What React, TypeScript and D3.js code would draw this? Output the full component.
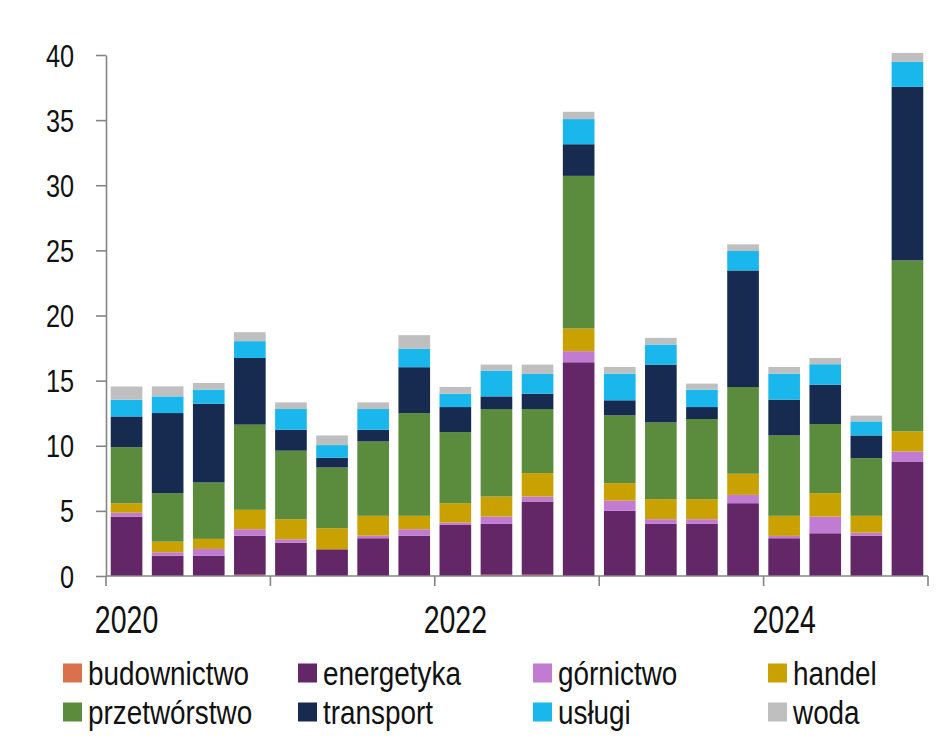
import React, { useEffect, useRef } from "react";
import * as d3 from "d3";

const quarters = [
  "2020Q1", "2020Q2", "2020Q3", "2020Q4",
  "2021Q1", "2021Q2", "2021Q3", "2021Q4",
  "2022Q1", "2022Q2", "2022Q3", "2022Q4",
  "2023Q1", "2023Q2", "2023Q3", "2023Q4",
  "2024Q1", "2024Q2", "2024Q3", "2024Q4",
];

const sectors = ["budownictwo", "energetyka", "górnictwo", "handel", "przetwórstwo", "transport", "usługi", "woda"];
const colors = ["#d9714c", "#632768", "#c27bd2", "#c9a100", "#5b8b3d", "#172a4f", "#19b7eb", "#bfbfbf"];

const budownictwo = [0, 0, 0, 0.1, 0, 0, 0, 0, 0, 0.1, 0.1, 0, 0, 0, 0, 0, 0, 0, 0, 0];
const energetyka = [4.56, 1.56, 1.56, 3.0, 2.56, 2.05, 2.9, 3.1, 3.92, 3.9, 5.62, 16.41, 5.0, 4.0, 4.0, 5.59, 2.9, 3.28, 3.1, 8.79];
const gornictwo = [0.3, 0.26, 0.52, 0.49, 0.26, 0, 0.2, 0.49, 0.18, 0.56, 0.38, 0.85, 0.79, 0.36, 0.36, 0.64, 0.18, 1.28, 0.23, 0.77];
const handel = [0.72, 0.82, 0.77, 1.49, 1.54, 1.62, 1.52, 1.03, 1.49, 1.54, 1.8, 1.74, 1.34, 1.54, 1.54, 1.62, 1.54, 1.8, 1.29, 1.54];
const przetworstwo = [4.31, 3.72, 4.33, 6.54, 5.26, 4.66, 5.71, 7.89, 5.46, 6.72, 4.92, 11.72, 5.2, 5.89, 6.15, 6.66, 6.17, 5.31, 4.43, 13.13];
const transport = [2.36, 6.15, 6.05, 5.12, 1.61, 0.75, 0.9, 3.52, 1.92, 0.97, 1.18, 2.43, 1.16, 4.44, 0.92, 8.95, 2.75, 3.02, 1.74, 13.32];
const uslugi = [1.28, 1.28, 1.08, 1.29, 1.59, 0.97, 1.59, 1.43, 1.03, 1.98, 1.51, 1.93, 2.05, 1.54, 1.34, 1.49, 2.0, 1.57, 1.08, 1.92];
const woda = [1.02, 0.77, 0.51, 0.69, 0.51, 0.74, 0.51, 1.03, 0.51, 0.46, 0.72, 0.56, 0.51, 0.51, 0.46, 0.51, 0.51, 0.48, 0.44, 0.69];

const yTicks = [0, 5, 10, 15, 20, 25, 30, 35, 40];
const yearLabels = ["2020", "2022", "2024"];

// no narrow font installed, so regular Liberation Sans squeezed horizontally
const FONT = "'Liberation Sans', Arial, sans-serif";
const AXIS = "#858585";

const App = () => {
  const ref = useRef<SVGSVGElement>(null);

  useEffect(() => {
    const svg = d3.select(ref.current);
    svg.selectAll("*").remove();

    const series = [budownictwo, energetyka, gornictwo, handel, przetworstwo, transport, uslugi, woda];
    const rows = quarters.map((q, i) => {
      const r: any = { q };
      sectors.forEach((s, k) => (r[s] = series[k][i]));
      return r;
    });
    const stacked = d3.stack().keys(sectors)(rows);

    const x = d3.scaleBand().domain(quarters).range([106, 928]).paddingInner(0.23).paddingOuter(0.115);
    const y = d3.scaleLinear().domain([0, 40]).range([576, 55]);
    const step = x.step();

    svg
      .append("g")
      .selectAll("g")
      .data(stacked)
      .join("g")
      .attr("fill", (d, i) => colors[i])
      .selectAll("rect")
      .data((d) => d)
      .join("rect")
      .attr("x", (d: any) => x(d.data.q))
      .attr("width", x.bandwidth())
      .attr("y", (d) => y(d[1]))
      .attr("height", (d) => Math.max(0, y(d[0]) - y(d[1])));

    // y axis
    const yAxis = svg
      .append("g")
      .attr("transform", "translate(106,0)")
      .call(d3.axisLeft(y).tickValues(yTicks).tickSize(10).tickFormat(() => "").tickSizeOuter(0));
    yAxis.select(".domain").attr("stroke", AXIS).attr("stroke-width", 1.6);
    yAxis.selectAll(".tick line").attr("stroke", AXIS).attr("stroke-width", 1.6);
    svg
      .append("g")
      .selectAll("text")
      .data(yTicks)
      .join("text")
      .attr("transform", (d) => `translate(74,${y(d)}) scale(0.79,1)`)
      .attr("dy", "0.36em")
      .attr("text-anchor", "end")
      .attr("font-family", FONT)
      .attr("font-size", 32)
      .attr("fill", "#111")
      .text((d) => d);

    // x axis
    const xg = svg.append("g");
    xg.append("line")
      .attr("x1", 106)
      .attr("x2", 928)
      .attr("y1", y(0))
      .attr("y2", y(0))
      .attr("stroke", AXIS)
      .attr("stroke-width", 1.6);
    const yearStarts = quarters.filter((q) => q.endsWith("Q1"));
    const boundaries = yearStarts.map((q) => (x(q) as number) - (step * 0.23) / 2).concat([928]);
    xg.selectAll("line.tk")
      .data(boundaries)
      .join("line")
      .attr("class", "tk")
      .attr("x1", (d) => d)
      .attr("x2", (d) => d)
      .attr("y1", y(0))
      .attr("y2", y(0) + 10)
      .attr("stroke", AXIS)
      .attr("stroke-width", 1.6);
    xg.selectAll("text")
      .data(yearLabels)
      .join("text")
      .attr("transform", (d) => `translate(${(x(d + "Q1") as number) + x.bandwidth() / 2},633) scale(0.75,1)`)
      .attr("text-anchor", "middle")
      .attr("font-family", FONT)
      .attr("font-size", 38)
      .attr("fill", "#111")
      .text((d) => d);

    // legend
    const lg = svg
      .append("g")
      .selectAll("g")
      .data(sectors)
      .join("g")
      .attr("transform", (d, i) => `translate(${63 + (i % 4) * 235},${i < 4 ? 673 : 712})`);
    lg.append("rect")
      .attr("x", 0)
      .attr("y", -9.5)
      .attr("width", 19)
      .attr("height", 19)
      .attr("fill", (d, i) => colors[i]);
    lg.append("text")
      .attr("transform", "translate(25,0) scale(0.82,1)")
      .attr("dy", "0.35em")
      .attr("font-family", FONT)
      .attr("font-size", 34)
      .attr("fill", "#111")
      .text((d) => d);
  }, []);

  return (
    <svg
      ref={ref}
      width={948}
      height={740}
      style={{ position: "absolute", left: 0, top: 0, background: "#fff" }}
    />
  );
};

export default App;
